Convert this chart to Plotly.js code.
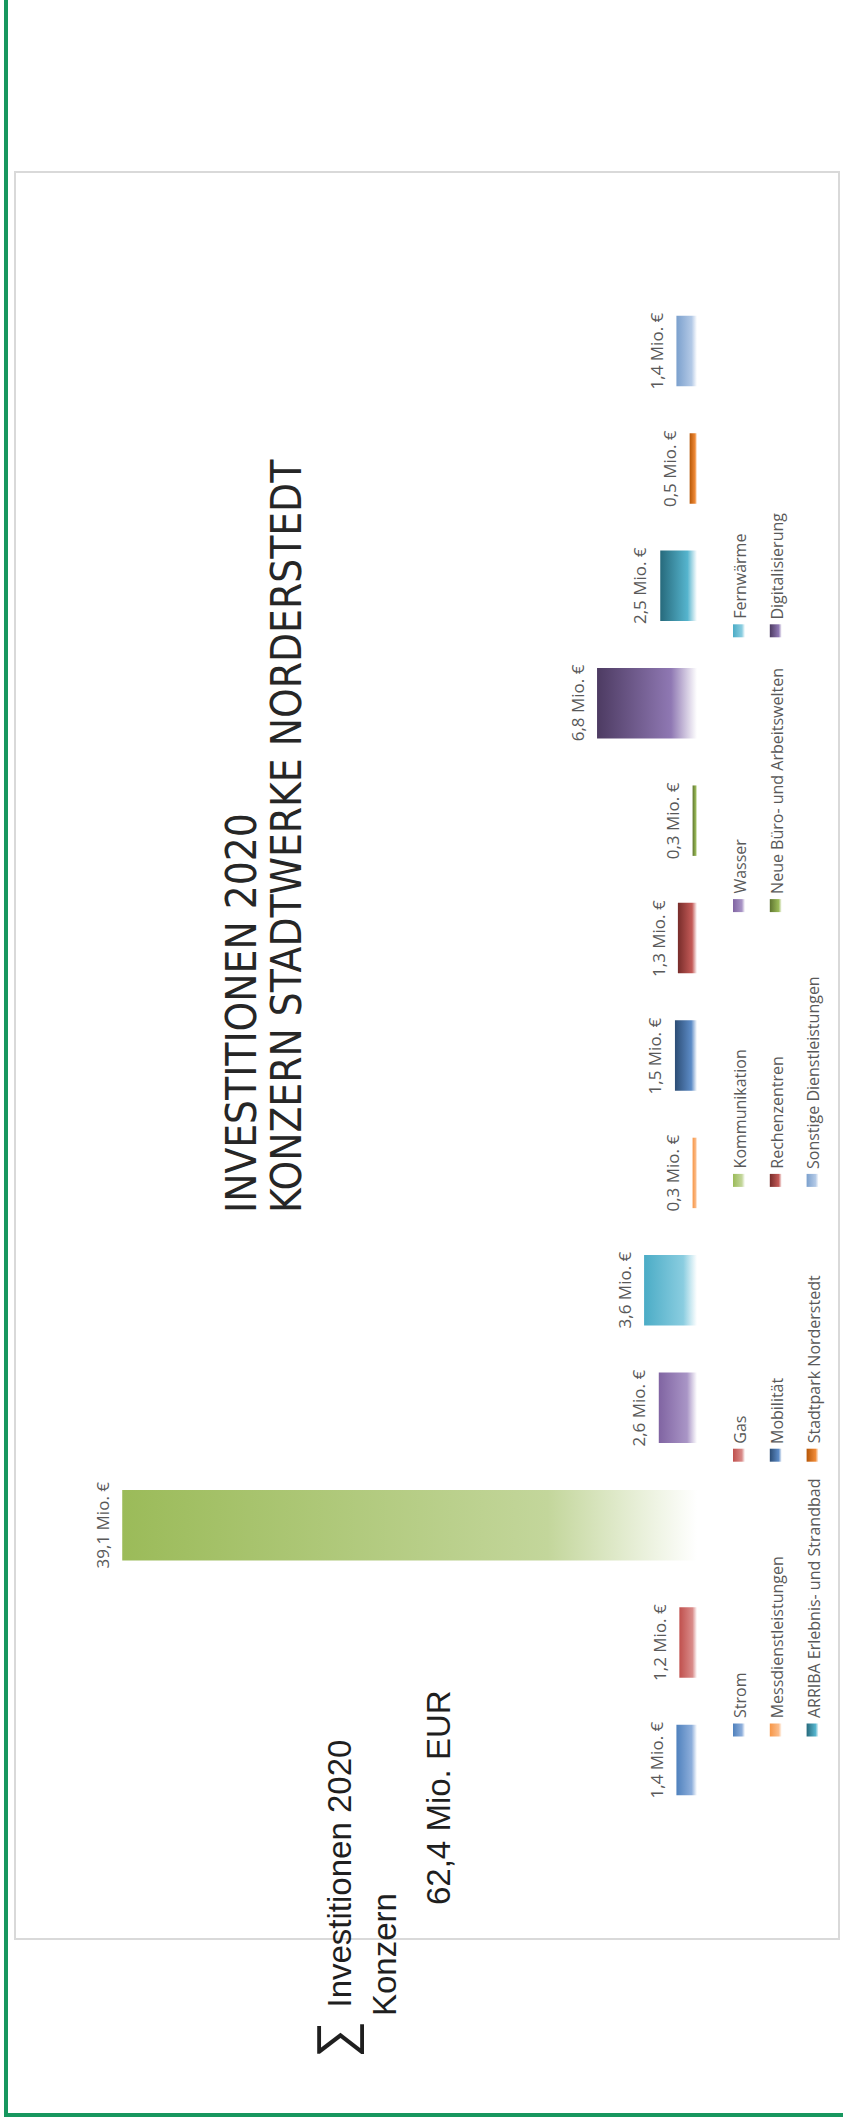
<!DOCTYPE html>
<html><head><meta charset="utf-8">
<script src="https://cdn.plot.ly/plotly-3.0.1.min.js"></script>
<style>html,body{margin:0;padding:0;background:#fff}#chart{width:843px;height:2123px}</style>
</head><body><div id="chart"></div>
<script>
// ---- data ----
const categories = ['Strom','Gas','Kommunikation','Wasser','Fernwärme','Messdienstleistungen','Mobilität','Rechenzentren','Neue Büro- und Arbeitswelten','Digitalisierung','ARRIBA Erlebnis- und Strandbad','Stadtpark Norderstedt','Sonstige Dienstleistungen'];
const values = [1.4, 1.2, 39.1, 2.6, 3.6, 0.3, 1.5, 1.3, 0.3, 6.8, 2.5, 0.5, 1.4];
const startColors = ['#4F81BD','#C0504D','#9BBB59','#8064A2','#4BACC6','#F79646','#2C4D75','#772C2A','#5F7530','#4D3B62','#276A7C','#B65708','#7BA0CD'];
const midColors = ['#8DAEDB','#D98B89','#C3D69B','#A995C6','#8ACDE0','#FBBC8A','#5C8BC6','#C45A57','#9BBB59','#8F78B3','#55B4CD','#F08A36','#B3C9E6'];
const titleLines = ['INVESTITIONEN 2020', 'KONZERN STADTWERKE NORDERSTEDT'];
const sumSymbol = '∑';
const sumLines = ['Investitionen 2020', 'Konzern', '62,4 Mio. EUR'];
const valueUnit = ' Mio. €';

// ---- layout helpers ----
const W = 843, H = 2123;
const px = v => v / W, py = v => 1 - v / H;
const BASE = 697, SCALE = 14.7, RANGE_MAX = 40;
const n = categories.length;
const CAT_TOP = 351, CAT_BOTTOM = 1760;
const step = (CAT_BOTTOM - CAT_TOP) / (n - 1);

const valueFont = {family: 'Open Sans, Noto Sans, sans-serif', size: 17, color: '#595959'};
const legendFont = {family: 'Open Sans, Noto Sans, sans-serif', size: 16, color: '#595959'};
const titleFont = {family: 'Liberation Sans Narrow, DejaVu Sans Condensed, Arial Narrow, sans-serif', size: 42, color: '#262626'};
const sumFont = {family: 'Liberation Sans, Arial, sans-serif', size: 33, color: '#1f1f1f'};

const trace = {
  type: 'bar', orientation: 'h',
  x: values, y: categories,
  marker: {color: startColors, line: {width: 0}},
  hoverinfo: 'skip', showlegend: false
};

const annotations = [];
// value labels
values.forEach((v, i) => {
  annotations.push({
    xref: 'x', yref: 'y', x: v, y: categories[i],
    text: v.toFixed(1).replace('.', ',') + valueUnit,
    showarrow: false, textangle: -90, xanchor: 'center', yanchor: 'middle',
    xshift: -20, font: valueFont
  });
});
// frame + legend
const shapes = [
  {type: 'rect', xref: 'paper', yref: 'paper', x0: px(15), x1: px(839), y0: py(1939), y1: py(172),
   line: {color: '#d9d9d9', width: 2}, fillcolor: 'rgba(0,0,0,0)', layer: 'below'},
  {type: 'line', xref: 'paper', yref: 'paper', x0: px(6), x1: px(6), y0: py(2115), y1: 1,
   line: {color: '#17975f', width: 4}},
  {type: 'line', xref: 'paper', yref: 'paper', x0: px(4), x1: 1, y0: py(2115), y1: py(2115),
   line: {color: '#17975f', width: 4}}
];
const swatchStart = shapes.length;
const LEG_X0 = 739, LEG_DX = 36.8, LEG_Y0 = 1730, LEG_DY = 274.8, ROWS = 5;
categories.forEach((c, i) => {
  const col = Math.floor(i / ROWS), row = i % ROWS;
  const cx = LEG_X0 + col * LEG_DX, cy = LEG_Y0 - row * LEG_DY;
  shapes.push({type: 'rect', xref: 'paper', yref: 'paper', x0: px(cx - 6), x1: px(cx + 6),
    y0: py(cy + 6.5), y1: py(cy - 6.5), line: {width: 0}, fillcolor: startColors[i], layer: 'above'});
  annotations.push({xref: 'paper', yref: 'paper', x: px(cx + 1), y: py(cy - 9.5), text: c,
    showarrow: false, textangle: -90, xanchor: 'center', yanchor: 'bottom', font: legendFont});
});
// title
annotations.push({xref: 'paper', yref: 'paper', x: px(241), y: py(1215), text: titleLines[0],
  showarrow: false, textangle: -90, xanchor: 'center', yanchor: 'bottom', font: titleFont});
annotations.push({xref: 'paper', yref: 'paper', x: px(286), y: py(1215), text: titleLines[1],
  showarrow: false, textangle: -90, xanchor: 'center', yanchor: 'bottom', font: titleFont});
// sum block
annotations.push({xref: 'paper', yref: 'paper', x: px(335), y: py(2040), text: sumSymbol,
  showarrow: false, textangle: -90, xanchor: 'center', yanchor: 'middle',
  font: {family: 'DejaVu Sans ExtraLight, DejaVu Sans, sans-serif', weight: 200, size: 52, color: '#1f1f1f'}});
annotations.push({xref: 'paper', yref: 'paper', x: px(338.5), y: py(2010), text: sumLines[0],
  showarrow: false, textangle: -90, xanchor: 'center', yanchor: 'bottom', font: sumFont});
annotations.push({xref: 'paper', yref: 'paper', x: px(384.5), y: py(2018), text: sumLines[1],
  showarrow: false, textangle: -90, xanchor: 'center', yanchor: 'bottom', font: sumFont});
annotations.push({xref: 'paper', yref: 'paper', x: px(438.5), y: py(1907), text: sumLines[2],
  showarrow: false, textangle: -90, xanchor: 'center', yanchor: 'bottom', font: sumFont});

const layout = {
  width: W, height: H, margin: {l: 0, r: 0, t: 0, b: 0},
  paper_bgcolor: '#ffffff', plot_bgcolor: 'rgba(0,0,0,0)',
  showlegend: false, bargap: 0.4,
  xaxis: {domain: [px(BASE - RANGE_MAX * SCALE), px(BASE)], range: [RANGE_MAX, 0],
    showgrid: false, zeroline: false, showticklabels: false, ticks: '', showline: false, fixedrange: true},
  yaxis: {domain: [py(CAT_BOTTOM + step / 2), py(CAT_TOP - step / 2)], type: 'category',
    categoryorder: 'array', categoryarray: categories, range: [-0.5, n - 0.5],
    showgrid: false, zeroline: false, showticklabels: false, ticks: '', showline: false, fixedrange: true},
  shapes: shapes, annotations: annotations
};

Plotly.newPlot('chart', [trace], layout, {staticPlot: true, displayModeBar: false}).then(gd => {
  const NS = 'http://www.w3.org/2000/svg';
  const svg = gd.querySelector('svg.main-svg');
  let defs = svg.querySelector('defs');
  if (!defs) { defs = document.createElementNS(NS, 'defs'); svg.insertBefore(defs, svg.firstChild); }
  categories.forEach((c, i) => {
    const lg = document.createElementNS(NS, 'linearGradient');
    lg.setAttribute('id', 'bargrad' + i);
    lg.setAttribute('x1', '0'); lg.setAttribute('y1', '0');
    lg.setAttribute('x2', '1'); lg.setAttribute('y2', '0');
    [[0, startColors[i]], [0.74, midColors[i]], [1, '#ffffff']].forEach(([o, col]) => {
      const s = document.createElementNS(NS, 'stop');
      s.setAttribute('offset', o); s.setAttribute('stop-color', col);
      lg.appendChild(s);
    });
    defs.appendChild(lg);
  });
  gd.querySelectorAll('.barlayer .point path').forEach((p, i) => {
    p.style.fill = 'url(#bargrad' + i + ')';
  });
  gd.querySelectorAll('.shapelayer path').forEach(p => {
    const k = parseInt(p.getAttribute('data-index'), 10);
    if (k >= swatchStart && k < swatchStart + n) p.style.fill = 'url(#bargrad' + (k - swatchStart) + ')';
  });
});
</script></body></html>
